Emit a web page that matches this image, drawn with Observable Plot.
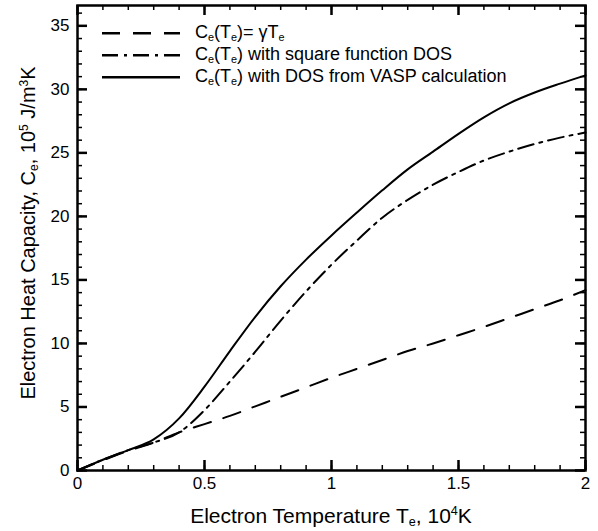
<!DOCTYPE html>
<html><head><meta charset="utf-8">
<script src="https://cdn.jsdelivr.net/npm/d3@7"></script>
<script src="https://cdn.jsdelivr.net/npm/@observablehq/plot@0.6"></script>
<style>
body{margin:0;background:#fff}
#chart svg{background:#fff;color:#000}
#chart svg text{font-family:'Liberation Sans', Arial, sans-serif;fill:#000}
</style>
</head><body><div id="chart"></div><script>
// Electron temperature, 10^4 K
const temperature = [0,0.1,0.2,0.3,0.4,0.5,0.6,0.7,0.8,0.9,1.0,1.1,1.2,1.3,1.4,1.5,1.6,1.7,1.8,1.9,2.0];
// Ce = gamma * Te  (10^5 J/m^3K)
const linearCe = [0,0.8,1.55,2.2,3.0,3.65,4.3,5.05,5.8,6.55,7.3,8.0,8.7,9.4,10.0,10.65,11.3,12.0,12.7,13.4,14.2];
// Ce with square function DOS
const squareCe = [0,0.85,1.6,2.2,3.0,4.75,7.0,9.35,11.8,14.1,16.2,18.1,19.9,21.3,22.5,23.5,24.4,25.1,25.7,26.2,26.6];
// Ce with DOS from VASP calculation
const vaspCe = [0,0.85,1.6,2.45,4.1,6.6,9.4,12.1,14.5,16.6,18.5,20.3,22.05,23.7,25.1,26.5,27.8,28.9,29.75,30.45,31.1];

const xMajor = [0,0.5,1,1.5,2];
const xMinor = d3.range(0,21).map(i=>i/10);
const yMajor = [0,5,10,15,20,25,30,35];
const yMinor = d3.range(0,37);
const xTickLabels = ["0","0.5","1","1.5","2"];
const yTickLabels = ["0","5","10","15","20","25","30","35"];

const seriesValues = [linearCe, squareCe, vaspCe];
const dashes = ["18,13", "16,6,3,6", null];

const rows = (vals) => temperature.map((t,i)=>({t, c: vals[i]}));
const font = "'Liberation Sans', Arial, sans-serif";

const W = 598, H = 531, mL = 77, mR = 13, mT = 5, mB = 61;
const innerW = W - mL - mR, innerH = H - mT - mB;
const xDomain = [0, 2], yDomain = [0, 36.6];
const minorLen = 5, majorLen = 10;

const plot = Plot.plot({
  width: W, height: H,
  marginLeft: mL, marginRight: mR, marginTop: mT, marginBottom: mB,
  x: {domain: xDomain},
  y: {domain: yDomain},
  marks: [
    ...seriesValues.map((vals, i) => Plot.line(rows(vals), {x: "t", y: "c", curve: "monotone-x", stroke: "#000", strokeWidth: 2, strokeDasharray: dashes[i]})),
    Plot.ruleX(xMinor, {insetTop: innerH - minorLen, stroke: "#000", strokeWidth: 1.5}),
    Plot.ruleX(xMajor, {insetTop: innerH - majorLen, stroke: "#000", strokeWidth: 2.5}),
    Plot.ruleX(xMinor, {insetBottom: innerH - minorLen, stroke: "#000", strokeWidth: 1.5}),
    Plot.ruleX(xMajor, {insetBottom: innerH - majorLen, stroke: "#000", strokeWidth: 2.5}),
    Plot.ruleY(yMinor, {insetRight: innerW - minorLen, stroke: "#000", strokeWidth: 1.5}),
    Plot.ruleY(yMajor, {insetRight: innerW - majorLen, stroke: "#000", strokeWidth: 2.5}),
    Plot.ruleY(yMinor, {insetLeft: innerW - minorLen, stroke: "#000", strokeWidth: 1.5}),
    Plot.ruleY(yMajor, {insetLeft: innerW - majorLen, stroke: "#000", strokeWidth: 2.5}),
    Plot.axisX({anchor: "bottom", ticks: xMajor, tickSize: 0, tickPadding: 6, tickFormat: (d)=>xTickLabels[xMajor.indexOf(d)], label: null, fontSize: 17}),
    Plot.axisY({anchor: "left", ticks: yMajor, tickSize: 0, tickPadding: 8, tickFormat: (d)=>yTickLabels[yMajor.indexOf(d)], label: null, fontSize: 17}),
    Plot.frame({strokeWidth: 2.5})
  ]
});
document.getElementById("chart").appendChild(plot);

const svg = d3.select(plot);
const sx = plot.scale("x"), sy = plot.scale("y");
function rich(sel, parts, size) {
  parts.forEach(p => {
    const t = sel.append("tspan").text(p.t);
    if (p.sub) t.attr("font-size", size*0.6).attr("baseline-shift", "-25%");
    if (p.sup) t.attr("font-size", size*0.6).attr("baseline-shift", "60%");
  });
}
const xl = svg.append("text").attr("x", 331).attr("y", 523).attr("text-anchor","middle")
  .attr("font-family", font).attr("font-size", 21).attr("fill","#000");
rich(xl, [{t:"Electron Temperature T"},{t:"e",sub:1},{t:", 10"},{t:"4",sup:1},{t:"K"}], 21);
const yl = svg.append("text").attr("transform","translate(35,233) rotate(-90)").attr("text-anchor","middle")
  .attr("font-family", font).attr("font-size", 20).attr("fill","#000");
rich(yl, [{t:"Electron Heat Capacity, C"},{t:"e",sub:1},{t:", 10"},{t:"5",sup:1},{t:" J/m"},{t:"3",sup:1},{t:"K"}], 20);

const legendLabels = [
  [{t:"C"},{t:"e",sub:1},{t:"(T"},{t:"e",sub:1},{t:")= γT"},{t:"e",sub:1}],
  [{t:"C"},{t:"e",sub:1},{t:"(T"},{t:"e",sub:1},{t:") with square function DOS"}],
  [{t:"C"},{t:"e",sub:1},{t:"(T"},{t:"e",sub:1},{t:") with DOS from VASP calculation"}]
];
const lg = svg.append("g");
const lx0 = sx.apply(0) + 25, lx1 = sx.apply(0) + 103, ty0 = sy.apply(35) + 8;
legendLabels.forEach((parts, i) => {
  const y = ty0 + i*22;
  lg.append("line").attr("x1", lx0).attr("x2", lx1).attr("y1", y).attr("y2", y)
    .attr("stroke","#000").attr("stroke-width", 2.5).attr("stroke-dasharray", dashes[i] || null);
  const t = lg.append("text").attr("x", lx1 + 15).attr("y", y + 5).attr("text-anchor", "start")
    .attr("font-family", font).attr("font-size", 18).attr("fill", "#000");
  rich(t, parts, 18);
});
</script></body></html>
